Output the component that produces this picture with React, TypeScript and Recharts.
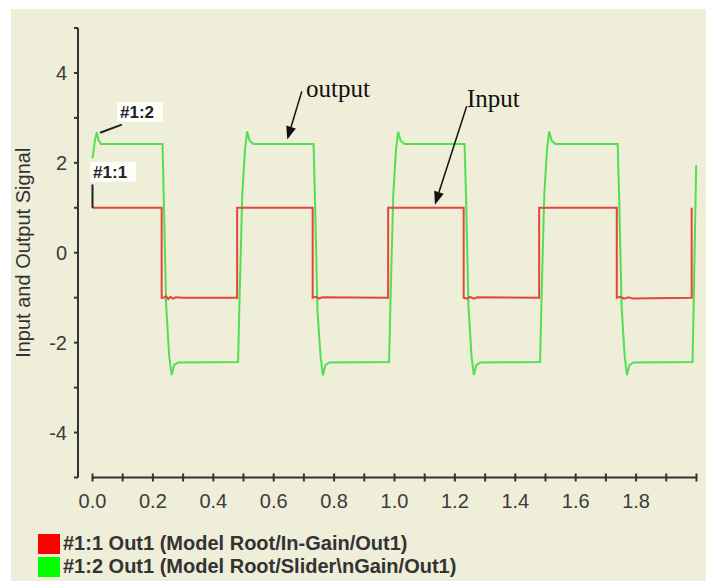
import React from "react";
import { LineChart, Line, XAxis, YAxis, ReferenceLine, ReferenceDot } from "recharts";

// input square wave (time s, value)
const inputSignal: [number, number][] = [
	[0, 1], [0.229, 1], [0.229, -1], [0.236, -1.0], [0.244, -0.97], [0.251, -1.03], [0.258, -0.98],
	[0.266, -1.02], [0.276, -0.99], [0.3, -1.0], [0.479, -1], [0.479, 1], [0.729, 1], [0.729, -1],
	[0.74, -0.98], [0.75, -1.02], [0.76, -0.99], [0.979, -1], [0.979, 1], [1.229, 1], [1.229, -1],
	[1.24, -1.02], [1.25, -0.98], [1.262, -1.02], [1.275, -0.99], [1.479, -1], [1.479, 1], [1.736, 1],
	[1.736, -1], [1.748, -0.98], [1.76, -1.02], [1.775, -0.99], [1.79, -1.02], [1.984, -1], [1.984, 1],
];

// output of the gain block
const outputSignal: [number, number][] = [
	[0, 2.1], [0.008, 2.5], [0.014, 2.68], [0.02, 2.5], [0.028, 2.42],
	[0.232, 2.42], [0.236, 1.2], [0.244, -1.2], [0.254, -2.3], [0.262, -2.72], [0.27, -2.5], [0.283, -2.44],
	[0.482, -2.43], [0.487, -1.0], [0.496, 1.3], [0.505, 2.3], [0.512, 2.7], [0.52, 2.5], [0.533, 2.42],
	[0.732, 2.42], [0.737, 1.1], [0.745, -1.3], [0.755, -2.3], [0.763, -2.73], [0.771, -2.5], [0.784, -2.44],
	[0.982, -2.43], [0.987, -1.0], [0.996, 1.3], [1.005, 2.3], [1.012, 2.69], [1.02, 2.5], [1.033, 2.42],
	[1.232, 2.42], [1.237, 1.2], [1.245, -1.2], [1.255, -2.3], [1.263, -2.72], [1.271, -2.5], [1.284, -2.44],
	[1.482, -2.43], [1.487, -1.0], [1.496, 1.3], [1.505, 2.3], [1.512, 2.7], [1.52, 2.5], [1.533, 2.42],
	[1.739, 2.42], [1.744, 1.2], [1.752, -1.2], [1.762, -2.3], [1.77, -2.72], [1.778, -2.5], [1.791, -2.44],
	[1.987, -2.43], [1.991, -1.0], [1.999, 1.95],
];

const xTicks = [0, 0.1, 0.2, 0.3, 0.4, 0.5, 0.6, 0.7, 0.8, 0.9, 1.0, 1.1, 1.2, 1.3, 1.4, 1.5, 1.6, 1.7, 1.8, 1.9, 2.0];
const yTicks = [-5, -4, -3, -2, -1, 0, 1, 2, 3, 4, 5];

const seriesNames = ["#1:1 Out1 (Model Root/In-Gain/Out1)", "#1:2 Out1 (Model Root/Slider\\nGain/Out1)"];
const seriesColors = ["#e4463e", "#52e052"];
const legendColors = ["#ff0000", "#00ff00"];

const inputData = inputSignal.map(([t, v]) => ({ t, v }));
const outputData = outputSignal.map(([t, v]) => ({ t, v }));

const AXIS = "#333333";

const XTick = (props: any) => {
	const { x, y, payload } = props;
	const v = payload.value as number;
	const labelled = Math.round(v * 10) % 2 === 0 && v < 1.95;
	return (
		<g>
			<line x1={x} x2={x} y1={y - 4} y2={y + 4} stroke={AXIS} strokeWidth={2} />
			{labelled && (
				<text x={x} y={y + 30} textAnchor="middle" fontSize={20} fill="#3c3c3c">
					{v.toFixed(1)}
				</text>
			)}
		</g>
	);
};

const Arrow = (props: any) => {
	const { x1, y1, x2, y2 } = props;
	const ang = Math.atan2(y2 - y1, x2 - x1);
	const len = 13;
	const half = 5;
	const bx = x2 - len * Math.cos(ang);
	const by = y2 - len * Math.sin(ang);
	const px = -Math.sin(ang) * half;
	const py = Math.cos(ang) * half;
	return (
		<g>
			<line x1={x1} y1={y1} x2={bx} y2={by} stroke="#111" strokeWidth={1.5} />
			<polygon points={`${x2},${y2} ${bx + px},${by + py} ${bx - px},${by - py}`} fill="#111" />
		</g>
	);
};

const Plain = (props: any) => {
	const { x1, y1, x2, y2 } = props;
	return <line x1={x1} y1={y1} x2={x2} y2={y2} stroke="#222" strokeWidth={2} />;
};

const serifText = (label: string) => (props: any) => (
	<text x={props.cx} y={props.cy} fontSize={25} fontFamily="Liberation Serif, serif" fill="#111">
		{label}
	</text>
);

const boxedText = (label: string) => (props: any) => (
	<g>
		<rect x={props.cx - 3} y={props.cy - 16} width={46} height={20} fill="#ffffff" opacity={0.85} />
		<text x={props.cx} y={props.cy} fontSize={17} fontWeight="bold" fill="#222">
			{label}
		</text>
	</g>
);

export default function App() {
	return (
		<div style={{ position: "absolute", left: 0, top: 0, width: 706, height: 581, background: "#ffffff", fontFamily: "'Liberation Sans', Arial, sans-serif" }}>
			<div style={{ position: "absolute", left: 11, top: 9, width: 695, height: 572, background: "#eeeed9" }}>
				<LineChart width={695} height={572} margin={{ top: 19, right: 9.5, bottom: 73.5, left: 0 }}>
					<XAxis
						dataKey="t"
						type="number"
						domain={[-0.048, 2]}
						ticks={xTicks}
						axisLine={false}
						tickLine={false}
						tickSize={0}
						tickMargin={0}
						height={30}
						interval={0}
						tick={<XTick />}
					/>
					<YAxis
						type="number"
						domain={[-5, 5]}
						ticks={yTicks}
						interval={0}
						width={67}
						tickSize={4}
						tickMargin={7}
						axisLine={{ stroke: AXIS, strokeWidth: 2 }}
						tickLine={{ stroke: AXIS, strokeWidth: 2 }}
						tick={{ fontSize: 20, fill: "#3c3c3c" }}
						tickFormatter={(v: number) => (v % 2 === 0 && Math.abs(v) < 5 ? String(v) : "")}
						label={{ value: "Input and Output Signal", angle: -90, position: "insideLeft", offset: 12, style: { textAnchor: "middle", fontSize: 20, fill: "#333" } }}
					/>
					<ReferenceLine segment={[{ x: 0, y: -5 }, { x: 2, y: -5 }]} stroke={AXIS} strokeWidth={2} />
					<Line data={outputData} dataKey="v" name={seriesNames[1]} type="linear" stroke={seriesColors[1]} strokeWidth={2} dot={false} isAnimationActive={false} />
					<Line data={inputData} dataKey="v" name={seriesNames[0]} type="linear" stroke={seriesColors[0]} strokeWidth={2} dot={false} isAnimationActive={false} />
					<ReferenceLine segment={[{ x: 0.693, y: 3.59 }, { x: 0.645, y: 2.52 }]} shape={<Arrow />} />
					<ReferenceLine segment={[{ x: 1.239, y: 3.26 }, { x: 1.134, y: 1.07 }]} shape={<Arrow />} />
					<ReferenceLine segment={[{ x: 0.097, y: 2.85 }, { x: 0.025, y: 2.67 }]} shape={<Plain />} />
					<ReferenceLine segment={[{ x: 0, y: 1.52 }, { x: 0, y: 1.0 }]} shape={<Plain />} />
					<ReferenceDot x={0.707} y={3.47} r={0} shape={serifText("output")} />
					<ReferenceDot x={1.24} y={3.25} r={0} shape={serifText("Input")} />
					<ReferenceDot x={0.091} y={3.0} r={0} shape={boxedText("#1:2")} />
					<ReferenceDot x={0.002} y={1.67} r={0} shape={boxedText("#1:1")} />
				</LineChart>
				<div style={{ position: "absolute", left: 27, top: 523 }}>
					{seriesNames.map((name, i) => (
						<div key={name} style={{ display: "flex", alignItems: "center", height: 23 }}>
							<span style={{ display: "inline-block", width: 22, height: 20, background: legendColors[i], marginRight: 3 }} />
							<span style={{ fontSize: 20, fontWeight: "bold", color: "#333", whiteSpace: "nowrap" }}>{name}</span>
						</div>
					))}
				</div>
			</div>
		</div>
	);
}
